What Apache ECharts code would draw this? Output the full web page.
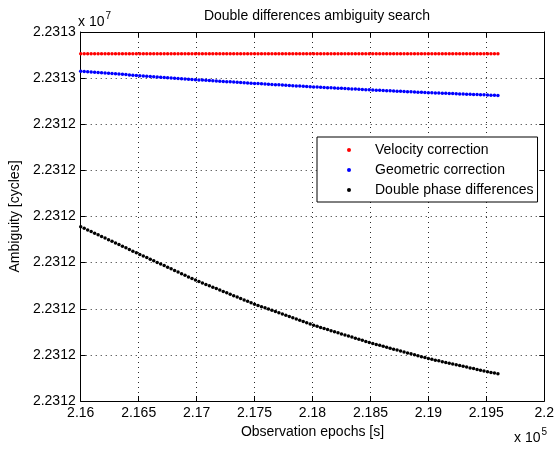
<!DOCTYPE html>
<html>
<head>
<meta charset="utf-8">
<script src="https://cdn.jsdelivr.net/npm/echarts@6/dist/echarts.min.js"></script>
<style>
html,body{margin:0;padding:0;background:#fff;}
#chart{width:557px;height:450px;}
</style>
</head>
<body>
<div id="chart"></div>
<script>
const titleText = 'Double differences ambiguity search';
const xAxisName = 'Observation epochs [s]';
const yAxisName = 'Ambiguity [cycles]';
const seriesNames = ['Velocity correction', 'Geometric correction', 'Double phase differences'];
const seriesColors = ['#ff0000', '#0000ff', '#000000'];

const xMin = 216000, xMax = 220000, xInterval = 500;
const yMin = 22311800, yMax = 22312600, yInterval = 100;
const xTickLabels = ['2.16', '2.165', '2.17', '2.175', '2.18', '2.185', '2.19', '2.195', '2.2'];
const yTickLabels = ['2.2312', '2.2312', '2.2312', '2.2312', '2.2312', '2.2312', '2.2312', '2.2313', '2.2313'];

const epochs = [
  216000,216030,216060,216090,216120,216150,216180,216210,216240,216270,
  216300,216330,216360,216390,216420,216450,216480,216510,216540,216570,
  216600,216630,216660,216690,216720,216750,216780,216810,216840,216870,
  216900,216930,216960,216990,217020,217050,217080,217110,217140,217170,
  217200,217230,217260,217290,217320,217350,217380,217410,217440,217470,
  217500,217530,217560,217590,217620,217650,217680,217710,217740,217770,
  217800,217830,217860,217890,217920,217950,217980,218010,218040,218070,
  218100,218130,218160,218190,218220,218250,218280,218310,218340,218370,
  218400,218430,218460,218490,218520,218550,218580,218610,218640,218670,
  218700,218730,218760,218790,218820,218850,218880,218910,218940,218970,
  219000,219030,219060,219090,219120,219150,219180,219210,219240,219270,
  219300,219330,219360,219390,219420,219450,219480,219510,219540,219570,
  219600
];

const velocityCorrection = [
  22312553,22312553,22312553,22312553,22312553,22312553,22312553,22312553,22312553,22312553,
  22312553,22312553,22312553,22312553,22312553,22312553,22312553,22312553,22312553,22312553,
  22312553,22312553,22312553,22312553,22312553,22312553,22312553,22312553,22312553,22312553,
  22312553,22312553,22312553,22312553,22312553,22312553,22312553,22312553,22312553,22312553,
  22312553,22312553,22312553,22312553,22312553,22312553,22312553,22312553,22312553,22312553,
  22312553,22312553,22312553,22312553,22312553,22312553,22312553,22312553,22312553,22312553,
  22312553,22312553,22312553,22312553,22312553,22312553,22312553,22312553,22312553,22312553,
  22312553,22312553,22312553,22312553,22312553,22312553,22312553,22312553,22312553,22312553,
  22312553,22312553,22312553,22312553,22312553,22312553,22312553,22312553,22312553,22312553,
  22312553,22312553,22312553,22312553,22312553,22312553,22312553,22312553,22312553,22312553,
  22312553,22312553,22312553,22312553,22312553,22312553,22312553,22312553,22312553,22312553,
  22312553,22312553,22312553,22312553,22312553,22312553,22312553,22312553,22312553,22312553,
  22312553
];

const geometricCorrection = [
  22312515.0,22312514.4,22312513.9,22312513.3,22312512.7,22312512.2,22312511.6,22312511.0,22312510.4,22312509.9,
  22312509.3,22312508.7,22312508.2,22312507.6,22312507.0,22312506.5,22312505.9,22312505.3,22312504.8,22312504.2,
  22312503.7,22312503.2,22312502.6,22312502.1,22312501.5,22312501.0,22312500.5,22312499.9,22312499.4,22312498.8,
  22312498.3,22312497.8,22312497.2,22312496.7,22312496.2,22312495.7,22312495.2,22312494.7,22312494.3,22312493.8,
  22312493.3,22312492.8,22312492.3,22312491.9,22312491.4,22312490.9,22312490.4,22312489.9,22312489.5,22312489.0,
  22312488.5,22312488.1,22312487.6,22312487.2,22312486.7,22312486.3,22312485.8,22312485.4,22312484.9,22312484.5,
  22312484.0,22312483.6,22312483.1,22312482.7,22312482.2,22312481.8,22312481.3,22312480.9,22312480.5,22312480.1,
  22312479.7,22312479.3,22312478.9,22312478.5,22312478.1,22312477.8,22312477.4,22312477.0,22312476.6,22312476.2,
  22312475.8,22312475.4,22312475.0,22312474.6,22312474.3,22312473.9,22312473.6,22312473.2,22312472.8,22312472.5,
  22312472.1,22312471.8,22312471.4,22312471.1,22312470.7,22312470.3,22312470.0,22312469.6,22312469.3,22312468.9,
  22312468.5,22312468.2,22312467.9,22312467.6,22312467.3,22312467.0,22312466.7,22312466.4,22312466.1,22312465.8,
  22312465.5,22312465.2,22312464.9,22312464.6,22312464.3,22312464.0,22312463.7,22312463.4,22312463.1,22312462.8,
  22312462.5
];

const doublePhaseDifferences = [
  22312178.0,22312174.5,22312170.9,22312167.4,22312163.8,22312160.3,22312156.8,22312153.2,22312149.7,22312146.1,
  22312142.6,22312139.1,22312135.5,22312132.0,22312128.4,22312124.9,22312121.4,22312117.8,22312114.4,22312110.9,
  22312107.4,22312103.9,22312100.4,22312097.0,22312093.5,22312090.0,22312086.5,22312083.0,22312079.6,22312076.1,
  22312072.6,22312069.1,22312065.6,22312062.2,22312059.0,22312055.9,22312052.8,22312049.8,22312046.7,22312043.7,
  22312040.6,22312037.5,22312034.5,22312031.4,22312028.4,22312025.3,22312022.2,22312019.2,22312016.1,22312013.1,
  22312010.0,22312007.3,22312004.6,22312001.9,22311999.2,22311996.5,22311993.8,22311991.1,22311988.4,22311985.7,
  22311983.0,22311980.3,22311977.6,22311974.9,22311972.2,22311969.5,22311966.8,22311964.2,22311961.9,22311959.5,
  22311957.2,22311954.9,22311952.5,22311950.2,22311947.8,22311945.5,22311943.2,22311940.8,22311938.5,22311936.1,
  22311933.8,22311931.5,22311929.1,22311926.8,22311924.6,22311922.6,22311920.6,22311918.5,22311916.5,22311914.4,
  22311912.4,22311910.4,22311908.3,22311906.3,22311904.3,22311902.2,22311900.2,22311898.1,22311896.1,22311894.1,
  22311892.0,22311890.3,22311888.6,22311887.0,22311885.3,22311883.6,22311881.9,22311880.2,22311878.6,22311876.9,
  22311875.2,22311873.5,22311871.8,22311870.2,22311868.5,22311866.8,22311865.1,22311863.5,22311862.0,22311860.5,
  22311859.0
];

const FONT = '"Liberation Sans", Arial, Helvetica, sans-serif';
const seriesValues = [velocityCorrection, geometricCorrection, doublePhaseDifferences];

const chart = echarts.init(document.getElementById('chart'), null, {renderer: 'canvas'});

const gridLine = {show: true, lineStyle: {color: '#2a2a2a', type: [1, 4], width: 1}};
const axisLineStyle = {show: true, onZero: false, lineStyle: {color: '#000', width: 1}};
const tickInside = {show: true, inside: true, length: 5, lineStyle: {color: '#000', width: 1}};

function xLabel(v) {
  const i = Math.round((v - xMin) / xInterval);
  return xTickLabels[i] !== undefined ? xTickLabels[i] : '';
}
function yLabel(v) {
  const i = Math.round((v - yMin) / yInterval);
  return yTickLabels[i] !== undefined ? yTickLabels[i] : '';
}

const option = {
  animation: false,
  backgroundColor: '#fff',
  textStyle: {fontFamily: FONT},
  title: {
    text: titleText,
    left: 312, top: 4, textAlign: 'center',
    textStyle: {fontSize: 14, fontWeight: 'normal', color: '#000', fontFamily: FONT}
  },
  grid: {left: 78, right: 10, top: 32, bottom: 49, containLabel: false},
  legend: {
    orient: 'vertical', left: 317, top: 137,
    backgroundColor: '#fff', borderColor: '#000', borderWidth: 1, borderRadius: 0,
    padding: [6, 4, 5, 30],
    itemWidth: 4, itemHeight: 4, itemGap: 6, icon: 'circle',
    textStyle: {fontSize: 14, color: '#000', fontFamily: FONT, padding: [0, 0, 0, 19], lineHeight: 14},
    data: seriesNames
  },
  xAxis: [
    {
      type: 'value', position: 'bottom', min: xMin, max: xMax, interval: xInterval,
      name: xAxisName, nameLocation: 'middle', nameGap: 22,
      nameTextStyle: {fontSize: 14, color: '#000', fontFamily: FONT},
      axisLine: axisLineStyle, axisTick: tickInside, splitLine: gridLine,
      axisLabel: {formatter: xLabel, fontSize: 14, color: '#000', margin: 5, fontFamily: FONT}
    },
    {
      type: 'value', position: 'top', min: xMin, max: xMax, interval: xInterval,
      axisLine: axisLineStyle, axisTick: tickInside, splitLine: {show: false},
      axisLabel: {show: false}
    }
  ],
  yAxis: [
    {
      type: 'value', position: 'left', min: yMin, max: yMax, interval: yInterval,
      name: yAxisName, nameLocation: 'middle', nameGap: 56,
      nameTextStyle: {fontSize: 14, color: '#000', fontFamily: FONT},
      axisLine: axisLineStyle, axisTick: tickInside, splitLine: gridLine,
      axisLabel: {formatter: yLabel, fontSize: 14, color: '#000', margin: 5, fontFamily: FONT}
    },
    {
      type: 'value', position: 'right', min: yMin, max: yMax, interval: yInterval,
      axisLine: axisLineStyle, axisTick: tickInside, splitLine: {show: false},
      axisLabel: {show: false}
    }
  ],
  graphic: [
    {
      type: 'text', left: 78, top: 11,
      style: {
        text: '{b|x 10}{s|7}', fontFamily: FONT,
        rich: {
          b: {fontSize: 14, fill: '#000', fontFamily: FONT, verticalAlign: 'bottom'},
          s: {fontSize: 10, fill: '#000', fontFamily: FONT, verticalAlign: 'top', padding: [0, 0, 8, 1]}
        }
      }
    },
    {
      type: 'text', left: 514, top: 427,
      style: {
        text: '{b|x 10}{s|5}', fontFamily: FONT,
        rich: {
          b: {fontSize: 14, fill: '#000', fontFamily: FONT, verticalAlign: 'bottom'},
          s: {fontSize: 10, fill: '#000', fontFamily: FONT, verticalAlign: 'top', padding: [0, 0, 8, 1]}
        }
      }
    }
  ],
  series: seriesNames.map((name, k) => ({
    name: name,
    type: 'scatter',
    xAxisIndex: 0, yAxisIndex: 0,
    symbol: 'circle', symbolSize: 3.5,
    itemStyle: {color: seriesColors[k], opacity: 1},
    emphasis: {disabled: true},
    data: epochs.map((x, i) => [x, seriesValues[k][i]])
  }))
};
chart.setOption(option);
</script>
</body>
</html>
